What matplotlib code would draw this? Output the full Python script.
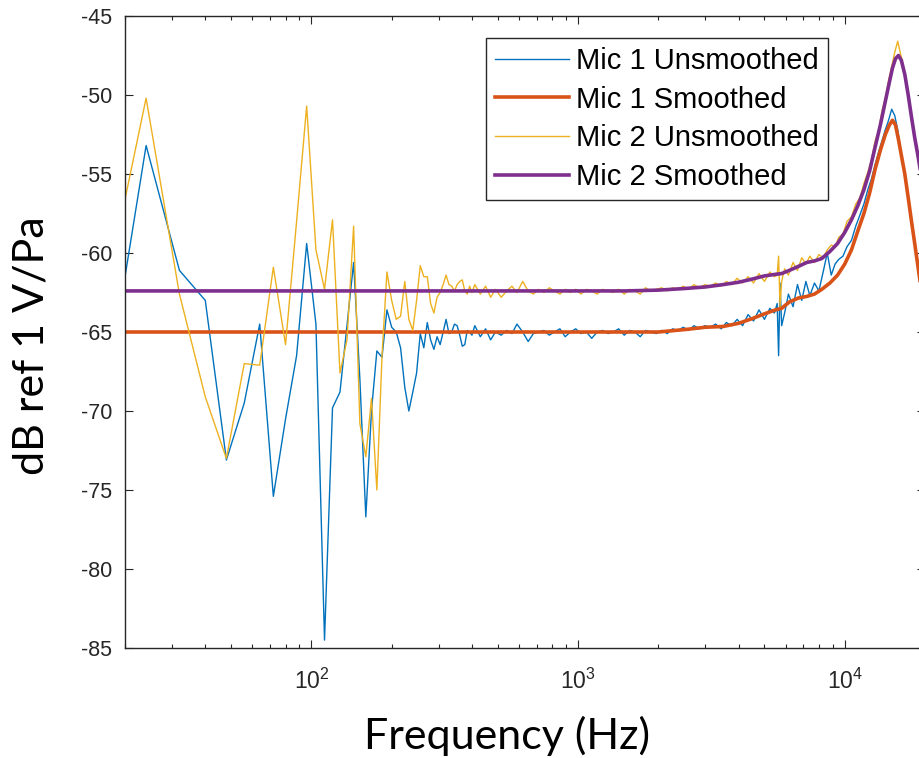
import matplotlib
matplotlib.use('Agg')
import matplotlib.pyplot as plt
from matplotlib.ticker import LogLocator, NullFormatter

plt.rcParams['font.family'] = ['Liberation Sans', 'DejaVu Sans']
plt.rcParams['axes.unicode_minus'] = False

# low-frequency FFT bins (8 Hz spacing)
f_lo = [20, 24, 32, 40, 48, 56, 64, 72, 80, 88, 96, 104, 112, 120, 128, 136, 144,
        152, 160, 168, 176, 184, 192, 200, 208, 216, 224, 232, 240, 248, 256, 264,
        272, 280, 288, 296, 304, 312, 320, 328, 336, 344, 352, 360, 368, 376, 384,
        392, 400]
mic1_lo = [-61.5, -53.2, -61.1, -63.0, -73.1, -69.5, -64.5, -75.4, -70.5, -66.5,
           -59.4, -64.5, -84.5, -69.8, -68.8, -64.6, -60.6, -68.0, -76.7, -70.0,
           -66.2, -66.6, -63.6, -64.7, -65.0, -66.0, -68.5, -70.0, -68.8, -67.6,
           -65.1, -66.0, -64.4, -65.5, -66.1, -65.3, -65.8, -65.0, -64.2, -65.1,
           -65.0, -64.5, -64.6, -65.2, -65.9, -65.8, -64.9, -65.0, -65.2]
mic2_lo = [-56.6, -50.2, -62.6, -69.1, -73.0, -67.0, -67.1, -60.9, -65.8, -58.0,
           -50.7, -59.8, -62.3, -57.9, -67.6, -65.5, -58.3, -70.8, -72.9, -69.2,
           -75.0, -66.5, -61.2, -63.0, -64.2, -64.0, -61.8, -64.2, -64.9, -63.0,
           -60.8, -61.5, -61.5, -63.2, -63.8, -62.8, -62.5, -62.0, -61.4, -62.0,
           -62.1, -62.4, -62.0, -61.8, -61.7, -62.4, -62.6, -62.1, -62.5]

# higher frequencies, sampled sparser
f_hi = [410, 430, 450, 470, 490, 515, 540, 565, 590, 620, 650, 680, 710, 745, 780,
        815, 855, 895, 935, 980, 1025, 1075, 1125, 1180, 1235, 1295, 1355, 1420,
        1490, 1560, 1635, 1710, 1790, 1875, 1965, 2060, 2160, 2260, 2370, 2480,
        2600, 2720, 2850, 2990, 3130, 3280, 3440, 3600, 3770, 3950, 4140, 4340,
        4550, 4770, 5000, 5240, 5450, 5580, 5650, 5720, 5800, 5950, 6150, 6400,
        6650, 6900, 7150, 7400, 7700, 8000, 8300, 8600, 8900, 9200, 9500, 9850,
        10200, 10600, 11000, 11400, 11800, 12200, 12600, 13000, 13400, 13800,
        14200, 14600, 15000, 15400, 15800, 16200, 16600, 17000, 17500, 18000,
        18500, 19000, 19500, 20000]
mic1_hi = [-64.6, -65.3, -64.8, -65.5, -65.0, -65.2, -64.9, -65.1, -64.5, -65.0,
           -65.6, -65.1, -65.0, -64.9, -65.2, -65.0, -64.8, -65.3, -65.0, -64.8,
           -65.1, -65.0, -65.4, -65.0, -64.9, -65.1, -65.0, -64.8, -65.2, -64.9,
           -65.0, -65.3, -64.9, -65.0, -65.1, -64.9, -65.1, -64.8, -64.9, -64.7,
           -64.9, -64.6, -64.8, -64.6, -64.7, -64.5, -64.8, -64.4, -64.6, -64.2,
           -64.6, -63.9, -64.3, -63.6, -64.2, -63.5, -63.8, -63.2, -66.5, -61.9,
           -64.6, -63.8, -62.6, -63.4, -62.0, -63.0, -61.8, -62.7, -61.9, -62.4,
           -61.2, -60.0, -61.4, -60.7, -60.4, -60.2, -59.6, -59.2, -58.3, -57.6,
           -56.9, -56.0, -55.3, -54.4, -53.6, -52.9, -52.2, -51.6, -50.9, -51.3,
           -52.2, -53.5, -54.6, -55.7, -57.2, -58.7, -60.0, -61.4, -62.8, -64.0]
mic2_hi = [-62.0, -62.6, -62.1, -62.8, -62.3, -62.8, -62.4, -62.1, -62.5, -61.8,
           -62.4, -62.6, -62.3, -62.5, -62.2, -62.4, -62.6, -62.3, -62.5, -62.3,
           -62.6, -62.3, -62.4, -62.6, -62.3, -62.4, -62.5, -62.3, -62.6, -62.3,
           -62.4, -62.6, -62.2, -62.4, -62.3, -62.2, -62.4, -62.2, -62.3, -62.1,
           -62.3, -62.0, -62.2, -62.0, -62.1, -61.9, -62.1, -61.8, -62.0, -61.6,
           -61.9, -61.5, -61.9, -61.3, -61.8, -61.2, -61.5, -61.4, -60.2, -63.4,
           -61.8, -61.0, -61.4, -60.6, -61.1, -60.3, -60.7, -60.2, -60.6, -60.1,
           -60.3, -59.8, -59.5, -59.6, -59.0, -58.8, -58.0, -57.7, -56.9, -56.5,
           -55.6, -54.9, -54.1, -52.9, -52.3, -51.0, -50.2, -49.1, -48.2, -47.3,
           -46.6, -47.4, -48.2, -49.3, -50.8, -52.1, -53.2, -54.4, -55.5, -56.6]

# smoothed curves
f_smooth = [20, 500, 1000, 1500, 2000, 2500, 3000, 3500, 4000, 4500, 5000, 5500,
            5800, 6200, 6700, 7200, 7700, 8200, 8800, 9400, 10000, 10600, 11200,
            11800, 12400, 13000, 13600, 14200, 14700, 15100, 15500, 15900, 16300,
            16800, 17300, 17800, 18300, 18800, 19400, 20000]
mic1_smooth = [-65.0, -65.0, -65.0, -65.0, -65.0, -64.85, -64.7, -64.65, -64.45,
               -64.15, -63.85, -63.6, -63.5, -63.1, -62.85, -62.75, -62.6, -62.3,
               -61.9, -61.4, -60.7, -59.8, -58.6, -57.5, -56.2, -54.7, -53.5,
               -52.5, -51.9, -51.6, -51.9, -52.8, -53.8, -55.0, -56.5, -58.0,
               -59.4, -60.8, -62.4, -64.0]
mic2_smooth = [-62.4, -62.4, -62.4, -62.4, -62.35, -62.25, -62.15, -62.0, -61.85,
               -61.65, -61.45, -61.35, -61.3, -61.1, -60.85, -60.6, -60.5, -60.35,
               -59.9, -59.4, -58.7, -57.9, -57.0, -56.0, -54.8, -53.3, -51.9,
               -50.4, -49.2, -48.3, -47.7, -47.5, -47.8, -48.7, -50.0, -51.4,
               -52.7, -53.8, -55.2, -56.5]

y_ticks = [-85, -80, -75, -70, -65, -60, -55, -50, -45]

BLUE = '#0072BD'
ORANGE = '#D95319'
YELLOW = '#EDB120'
PURPLE = '#7E2F8E'
DARK = '#262626'

fig = plt.figure(figsize=(9.19, 7.58), dpi=100)
ax = fig.add_axes([125 / 919, 110 / 758, 800 / 919, 632 / 758])

ax.plot(f_lo + f_hi, mic1_lo + mic1_hi, color=BLUE, lw=1.0, label='Mic 1 Unsmoothed')
ax.plot(f_smooth, mic1_smooth, color=ORANGE, lw=2.6, label='Mic 1 Smoothed')
ax.plot(f_lo + f_hi, mic2_lo + mic2_hi, color=YELLOW, lw=1.0, label='Mic 2 Unsmoothed')
ax.plot(f_smooth, mic2_smooth, color=PURPLE, lw=2.6, label='Mic 2 Smoothed')

ax.set_xscale('log')
ax.set_xlim(20, 20000)
ax.set_ylim(-85, -45)
ax.set_yticks(y_ticks)
ax.xaxis.set_major_locator(LogLocator(base=10, numticks=10))
ax.xaxis.set_minor_locator(LogLocator(base=10, subs=(2, 3, 4, 5, 6, 7, 8, 9), numticks=20))
ax.xaxis.set_minor_formatter(NullFormatter())

ax.tick_params(which='both', direction='in', top=True, right=True,
               colors=DARK, labelsize=15.5, width=0.8)
ax.tick_params(which='major', length=5.8)
ax.tick_params(which='minor', length=2.9)
ax.tick_params(axis='y', pad=9)
ax.tick_params(axis='x', pad=15, labelsize=16.5)
for sp in ax.spines.values():
    sp.set_color(DARK)
    sp.set_linewidth(1.0)

ax.set_xlabel('Frequency (Hz)', family='Lato', fontsize=31, color='black', va='center')
ax.xaxis.set_label_coords((507 - 125) / 800, (648 - 736) / 632)
ax.set_ylabel('dB ref 1 V/Pa', family='Lato', fontsize=31, color='black', va='center')
ax.yaxis.set_label_coords((32 - 125) / 800, (648 - 346) / 632)

leg = ax.legend(loc='upper right', bbox_to_anchor=(828 / 919, 1 - 38 / 758),
                bbox_transform=fig.transFigure, borderaxespad=0, fontsize=21,
                handlelength=2.55, handletextpad=0.25, labelspacing=0.37,
                borderpad=0.3, fancybox=False, framealpha=1)
leg.get_frame().set_edgecolor(DARK)
leg.get_frame().set_linewidth(1.0)

fig.savefig('out.png', dpi=100)
